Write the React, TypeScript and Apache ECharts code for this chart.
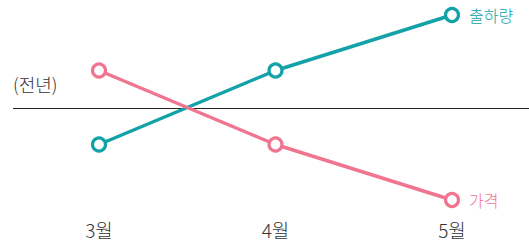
import React, { useEffect, useRef } from "react";
import * as echarts from "echarts";

const months = ["3월", "4월", "5월"];
const shipment = [-4, 4, 10];
const price = [4, -4, -10];
const shipmentName = "출하량";
const priceName = "가격";
const baselineName = "(전년)";
const baselineValue = 0;

const TEAL = "#12a2a7";
const PINK = "#f07590";
const FONT = "'Noto Sans CJK KR', 'Noto Sans', sans-serif";

export default function App() {
  const ref = useRef<HTMLDivElement>(null);
  useEffect(() => {
    if (!ref.current) return;
    const chart = echarts.init(ref.current, undefined, { renderer: "svg" });
    const mk = (name: string, data: number[], color: string) => ({
      type: "line",
      name,
      data,
      symbol: "circle",
      symbolSize: 13,
      showAllSymbol: true,
      lineStyle: { color, width: 3.5 },
      itemStyle: { color: "#fff", borderColor: color, borderWidth: 3.2 },
      label: {
        show: true,
        position: "right",
        distance: 9,
        color,
        fontSize: 16,
        fontWeight: 300,
        fontFamily: FONT,
        formatter: (p: any) => (p.dataIndex === data.length - 1 ? name : ""),
      },
      z: 3,
    });
    chart.setOption({
      animation: false,
      grid: { left: 99, right: 77, top: 15, bottom: 47 },
      xAxis: {
        type: "category",
        data: months,
        boundaryGap: false,
        axisLine: { show: false },
        axisTick: { show: false },
        splitLine: { show: false },
        axisLabel: { color: "#333", fontSize: 19, fontWeight: 300, fontFamily: FONT, margin: 20 },
      },
      yAxis: {
        type: "value",
        min: -10,
        max: 10,
        show: false,
      },
      series: [mk(shipmentName, shipment, TEAL), mk(priceName, price, PINK)],
    });
    const y = chart.convertToPixel({ yAxisIndex: 0 }, baselineValue) as number;
    const w = chart.getWidth();
    chart.setOption({
      graphic: [
        {
          type: "line",
          shape: { x1: 13, y1: Math.round(y) + 0.5, x2: w, y2: Math.round(y) + 0.5 },
          style: { stroke: "#222", lineWidth: 1 },
          z: 1,
        },
        {
          type: "text",
          left: 13,
          top: y - 33,
          style: { text: baselineName, fill: "#333", fontSize: 18, fontWeight: 300, fontFamily: FONT },
        },
      ],
    });
    return () => chart.dispose();
  }, []);
  return <div ref={ref} style={{ width: 529, height: 247, position: "absolute", left: 0, top: 0 }} />;
}
